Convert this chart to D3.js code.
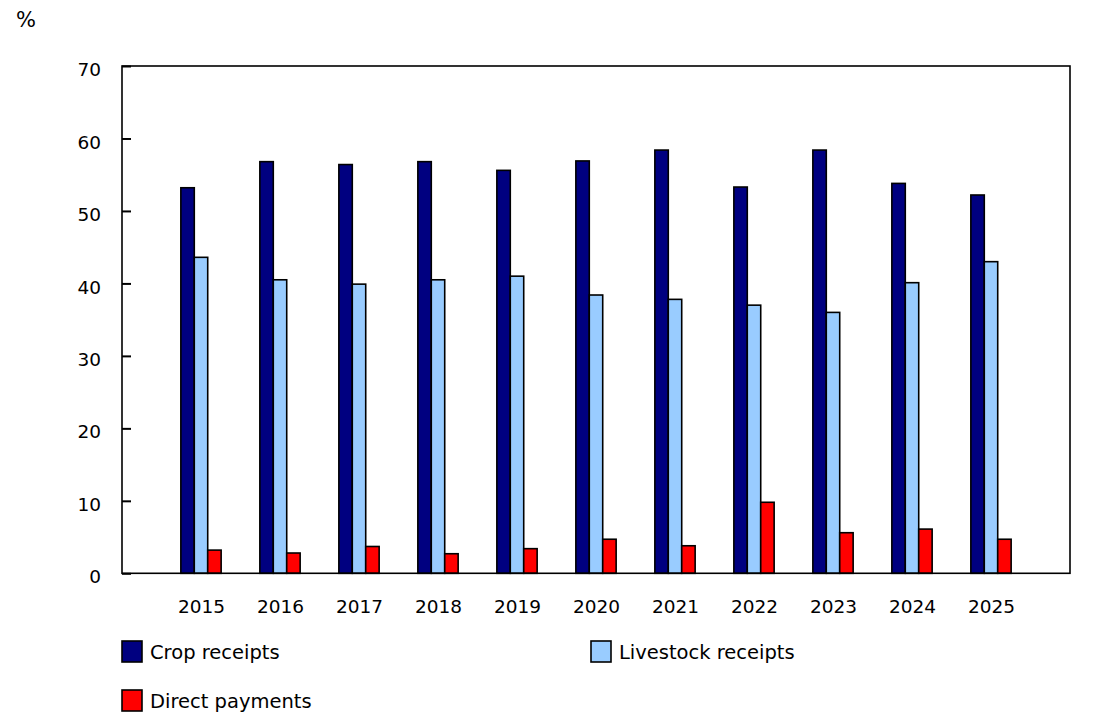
<!DOCTYPE html>
<html>
<head>
<meta charset="utf-8">
<script src="https://cdn.jsdelivr.net/npm/d3@7"></script>
<style>
  body { margin: 0; background: #fff; }
  text { font-family: "DejaVu Sans", Verdana, sans-serif; fill: #000; }
</style>
</head>
<body>
<div id="chart"></div>
<script>
// Data
const years = ['2015', '2016', '2017', '2018', '2019', '2020', '2021', '2022', '2023', '2024', '2025']
const cropReceipts = [53.2, 56.8, 56.4, 56.8, 55.6, 56.9, 58.4, 53.3, 58.4, 53.8, 52.2]
const livestockReceipts = [43.6, 40.5, 39.9, 40.5, 41.0, 38.4, 37.8, 37.0, 36.0, 40.1, 43.0]
const directPayments = [3.2, 2.8, 3.7, 2.7, 3.4, 4.7, 3.8, 9.8, 5.6, 6.1, 4.7]
const seriesNames = ['Crop receipts', 'Livestock receipts', 'Direct payments']
const seriesColors = ['#000080', '#99ccff', '#ff0000']
const yTicks = [0, 10, 20, 30, 40, 50, 60, 70]

const seriesValues = [cropReceipts, livestockReceipts, directPayments]
const dataset = years.map((y, i) => ({
  year: y,
  values: seriesNames.map((name, s) => ({ name: name, value: seriesValues[s][i] }))
}))

// Dimensions
const dimensions = {
  width: 1113,
  height: 727,
  left: 122,
  top: 66,
  right: 43,
  bottom: 153.7,
}
dimensions.ctrWidth = dimensions.width - dimensions.left - dimensions.right
dimensions.ctrHeight = dimensions.height - dimensions.top - dimensions.bottom

const svg = d3.select('#chart')
  .append('svg')
  .attr('width', dimensions.width)
  .attr('height', dimensions.height)

const ctr = svg.append('g')
  .attr('transform', `translate(${dimensions.left}, ${dimensions.top})`)

// Scales
const yScale = d3.scaleLinear()
  .domain([0, 70])
  .range([dimensions.ctrHeight, 0])

// group centres: one empty step at each end
const xScale = d3.scalePoint()
  .domain(years)
  .range([0, dimensions.ctrWidth])
  .padding(1)

const groupWidth = xScale.step() * 0.51
const innerScale = d3.scaleBand()
  .domain(seriesNames)
  .range([-groupWidth / 2, groupWidth / 2])

const colorScale = d3.scaleOrdinal()
  .domain(seriesNames)
  .range(seriesColors)

// Y axis (ticks inside the frame)
const yAxis = d3.axisLeft(yScale)
  .tickValues(yTicks)
  .tickSizeInner(-9)
  .tickSizeOuter(0)
  .tickPadding(21)
const yAxisGroup = ctr.append('g').call(yAxis)
yAxisGroup.select('.domain').remove()
yAxisGroup.selectAll('line').attr('stroke', '#000').attr('stroke-width', 2)
yAxisGroup.selectAll('text')
  .style('font-size', '18.5px')
  .attr('dy', '0.52em')

// X axis labels
const xAxis = d3.axisBottom(xScale)
  .tickSize(0)
  .tickPadding(26.5)
const xAxisGroup = ctr.append('g')
  .attr('transform', `translate(0, ${dimensions.ctrHeight})`)
  .call(xAxis)
xAxisGroup.select('.domain').remove()
xAxisGroup.selectAll('text').style('font-size', '18.5px')

// Bars
const groups = ctr.selectAll('.year')
  .data(dataset)
  .join('g')
  .attr('class', 'year')
  .attr('transform', d => `translate(${xScale(d.year)}, 0)`)

groups.selectAll('rect')
  .data(d => d.values)
  .join('rect')
  .attr('x', d => innerScale(d.name))
  .attr('width', innerScale.bandwidth())
  .attr('y', d => yScale(d.value))
  .attr('height', d => dimensions.ctrHeight - yScale(d.value))
  .attr('fill', d => colorScale(d.name))
  .attr('stroke', '#000')
  .attr('stroke-width', 1.6)

// Frame
ctr.append('rect')
  .attr('width', dimensions.ctrWidth)
  .attr('height', dimensions.ctrHeight)
  .attr('fill', 'none')
  .attr('stroke', '#000')
  .attr('stroke-width', 1.6)

// Unit label
svg.append('text')
  .attr('x', 16)
  .attr('y', 27)
  .style('font-size', '21px')
  .text('%')

// Legend
const legendPos = [[122, 641], [591, 641], [122, 690]]
const legend = svg.selectAll('.legend')
  .data(seriesNames)
  .join('g')
  .attr('class', 'legend')
  .attr('transform', (d, i) => `translate(${legendPos[i][0]}, ${legendPos[i][1]})`)

legend.append('rect')
  .attr('width', 20)
  .attr('height', 21)
  .attr('fill', d => colorScale(d))
  .attr('stroke', '#000')
  .attr('stroke-width', 1.6)

legend.append('text')
  .attr('x', 28)
  .attr('y', 18)
  .style('font-size', '19.5px')
  .text(d => d)
</script>
</body>
</html>
